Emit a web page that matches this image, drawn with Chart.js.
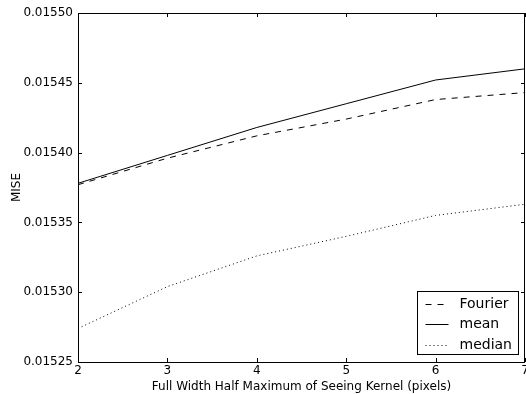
<!DOCTYPE html>
<html>
<head>
<meta charset="utf-8">
<script src="https://cdn.jsdelivr.net/npm/chart.js@4/dist/chart.umd.min.js"></script>
<style>
  html, body { margin: 0; padding: 0; background: #fff; }
  #wrap { width: 526px; height: 394px; }
</style>
</head>
<body>
<div id="wrap"><canvas id="myChart" width="526" height="394"></canvas></div>
<script>
// data
const fwhm = [2, 3, 4, 5, 6, 7];
const fourier = [0.015377, 0.015396, 0.015412, 0.015424, 0.015438, 0.015443];
const mean = [0.015378, 0.015398, 0.015418, 0.015435, 0.015452, 0.015460];
const median = [0.015274, 0.015304, 0.015326, 0.015340, 0.015355, 0.015363];
const yTicks = [0.01525, 0.01530, 0.01535, 0.01540, 0.01545, 0.01550];

const ink = '#000000';
const font = 'DejaVu Sans';

function pts(ys) {
  return fwhm.map((x, i) => ({ x: x, y: ys[i] }));
}

// matplotlib-ish frame with inward ticks on all four sides
const framePlugin = {
  id: 'frame',
  afterDraw(chart) {
    const c = chart.ctx, a = chart.chartArea;
    const xs = chart.scales.x, ys = chart.scales.y;
    c.save();
    c.strokeStyle = ink;
    c.lineWidth = 1;
    c.strokeRect(Math.round(a.left) + 0.5, Math.round(a.top) + 0.5,
      Math.round(a.right - a.left) - 1, Math.round(a.bottom - a.top));
    c.beginPath();
    fwhm.forEach(v => {
      const px = Math.round(xs.getPixelForValue(v)) + 0.5;
      c.moveTo(px, a.bottom); c.lineTo(px, a.bottom - 4);
      c.moveTo(px, a.top); c.lineTo(px, a.top + 4);
    });
    yTicks.forEach(v => {
      const py = Math.round(ys.getPixelForValue(v)) + 0.5;
      c.moveTo(a.left, py); c.lineTo(a.left + 4, py);
      c.moveTo(a.right, py); c.lineTo(a.right - 4, py);
    });
    c.stroke();

    // legend box in lower right
    const bx = 417.5, by = 291.5, bw = 101, bh = 63;
    c.fillStyle = '#fff';
    c.fillRect(bx, by, bw, bh);
    c.strokeRect(bx, by, bw, bh);
    c.font = '14px "' + font + '"';
    c.textBaseline = 'middle';
    c.fillStyle = ink;
    chart.data.datasets.forEach((ds, i) => {
      const ly = Math.round(by + 12 + i * 20.5) + 0.5;
      c.setLineDash(ds.borderDash || []);
      c.beginPath();
      c.moveTo(bx + 8, ly); c.lineTo(bx + 31, ly);
      c.stroke();
      c.setLineDash([]);
      c.fillText(ds.label, bx + 42, ly);
    });
    c.restore();
  }
};

new Chart(document.getElementById('myChart').getContext('2d'), {
  type: 'line',
  data: {
    datasets: [
      { label: 'Fourier', data: pts(fourier), borderColor: ink, borderWidth: 1, borderDash: [6, 6], pointRadius: 0, tension: 0 },
      { label: 'mean', data: pts(mean), borderColor: ink, borderWidth: 1, pointRadius: 0, tension: 0 },
      { label: 'median', data: pts(median), borderColor: ink, borderWidth: 1, borderDash: [1, 3], pointRadius: 0, tension: 0 }
    ]
  },
  options: {
    responsive: false,
    animation: false,
    layout: { padding: { top: 13, right: 1, left: 0, bottom: 0 } },
    scales: {
      x: {
        type: 'linear',
        min: 2,
        max: 7,
        afterBuildTicks: s => { s.ticks = fwhm.map(v => ({ value: v })); },
        afterFit: s => { s.height = 32; s.paddingLeft = 0; s.paddingRight = 0; },
        grid: { display: false, drawTicks: false },
        border: { display: false },
        ticks: { color: ink, padding: 2, font: { family: font, size: 12 }, maxRotation: 0 },
        title: { display: true, text: 'Full Width Half Maximum of Seeing Kernel (pixels)', color: ink, padding: 0, font: { family: font, size: 12 } }
      },
      y: {
        min: 0.01525,
        max: 0.01550,
        afterBuildTicks: s => { s.ticks = yTicks.map(v => ({ value: v })); },
        afterFit: s => { s.width = 78; s.paddingTop = 0; s.paddingBottom = 0; },
        grid: { display: false, drawTicks: false },
        border: { display: false },
        ticks: { color: ink, padding: 5, font: { family: font, size: 12 }, callback: v => v.toFixed(5) },
        title: { display: true, text: 'MISE', color: ink, padding: { top: 10, bottom: 0 }, font: { family: font, size: 12 } }
      }
    },
    plugins: {
      legend: { display: false },
      tooltip: { enabled: false }
    }
  },
  plugins: [framePlugin]
});
</script>
</body>
</html>
